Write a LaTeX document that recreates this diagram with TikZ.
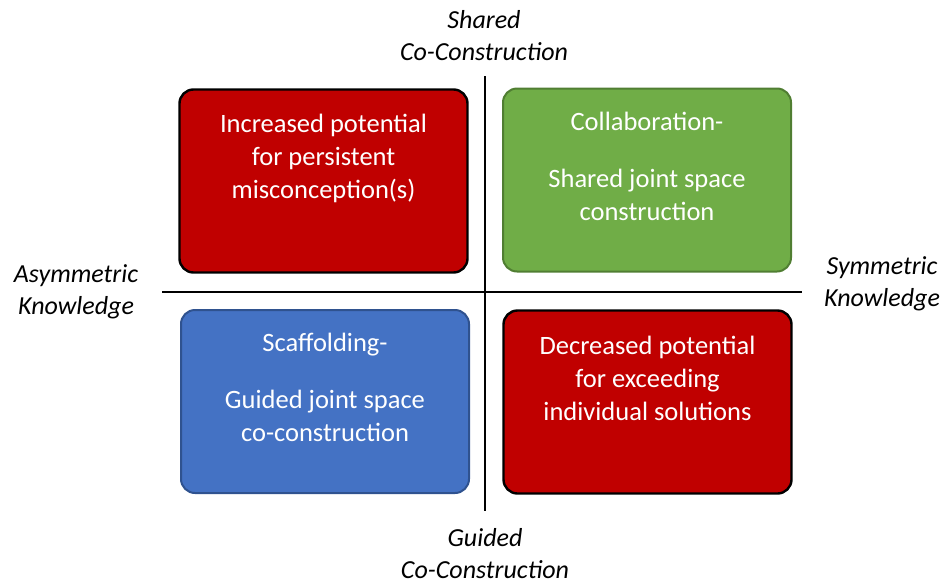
\documentclass[tikz,border=0pt]{standalone}
\usepackage{fontspec}
\setmainfont{Carlito}
\definecolor{boxred}{HTML}{C00000}
\definecolor{boxgreen}{HTML}{70AD47}
\definecolor{greenedge}{HTML}{507E32}
\definecolor{boxblue}{HTML}{4472C4}
\definecolor{blueedge}{HTML}{2F528F}
\begin{document}
\begin{tikzpicture}[x=1pt,y=-1pt,
  quad/.style={rounded corners=14pt, line width=2.4pt, minimum width=288pt, minimum height=183pt, inner sep=0pt},
  qtext/.style={text=white, align=center, font=\fontsize{26.5}{33}\selectfont, inner sep=0pt},
  axlabel/.style={align=center, font=\fontsize{26}{32}\selectfont\itshape, inner sep=0pt},
  axis/.style={line width=1.4pt, black}]
\useasboundingbox (0,0) rectangle (945,584);
% axes
\coordinate (vtop) at (485,76);
\coordinate (vbot) at (485,511);
\coordinate (hleft) at (162,292);
\coordinate (hright) at (802,292);
\draw[axis] (vtop) -- (vbot);
\draw[axis] (hleft) -- (hright);
% boxes
\node[quad, draw=black, fill=boxred] (tl) at (323.5,181) {};
\node[quad, draw=greenedge, fill=boxgreen, line width=2pt] (tr) at (647,180) {};
\node[quad, draw=blueedge, fill=boxblue, line width=2pt] (bl) at (325,401.5) {};
\node[quad, draw=black, fill=boxred] (br) at (647.5,402) {};
% box texts
\node[qtext] (tltext) at (323.5,158) {Increased potential\\for persistent\\misconception(s)};
\node[qtext] (trtext) at (647,166) {Collaboration-\\[24pt]Shared joint space\\construction};
\node[qtext] (bltext) at (325,387) {Scaffolding-\\[24pt]Guided joint space\\co-construction};
\node[qtext] (brtext) at (647.5,378) {Decreased potential\\for exceeding\\individual solutions};
% axis labels
\node[axlabel] (top) at (484,36) {Shared\\Co-Construction};
\node[axlabel] (bottom) at (485,554) {Guided\\Co-Construction};
\node[axlabel] (left) at (76,291.5) {Asymmetric\\Knowledge};
\node[axlabel] (right) at (882,283.5) {Symmetric\\Knowledge};
\end{tikzpicture}
\end{document}
